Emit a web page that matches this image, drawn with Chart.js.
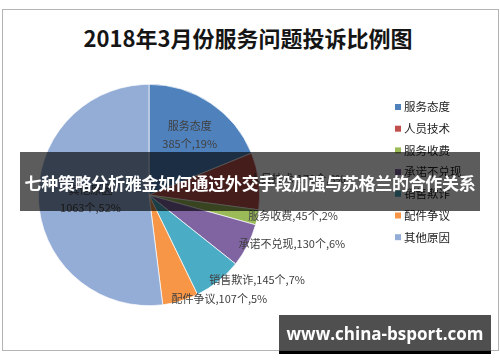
<!DOCTYPE html>
<html>
<head>
<meta charset="utf-8">
<script src="https://cdn.jsdelivr.net/npm/chart.js@4/dist/chart.umd.min.js"></script>
<style>
  body { margin:0; background:#fff; }
  #wrap { position:relative; width:500px; height:362px; overflow:hidden; font-family:"Noto Sans CJK SC", sans-serif; }
  #frame { position:absolute; left:2px; top:9px; width:495px; height:340px; border:1px solid #b4b4b4; }
  #title { position:absolute; left:0; width:496px; top:22px; text-align:center; font-size:22px; font-weight:700; color:#151515; line-height:30px; }
  #c { position:absolute; left:0; top:0; }
  #band { position:absolute; left:20px; top:152px; width:460px; height:59px; background:rgba(0,0,0,0.64); color:#fff;
          font-size:17px; font-weight:700; text-align:center; line-height:61px; letter-spacing:-0.3px; }
  #site { position:absolute; left:279px; top:315px; width:212px; height:36px; background:rgba(60,60,60,0.9); color:#fff;
          font-family:"Open Sans", sans-serif; font-size:17px; font-weight:700; text-align:center; line-height:38px;
          border-bottom:3px solid #000; }
</style>
</head>
<body>
<div id="wrap">
  <div id="frame"></div>
  <div id="title">2018年3月份服务问题投诉比例图</div>
  <canvas id="c" width="500" height="362"></canvas>
  <div id="band">七种策略分析雅金如何通过外交手段加强与苏格兰的合作关系</div>
  <div id="site">www.china-bsport.com</div>
</div>
<script>
// categories + counts (人员技术 estimated)
labels = ['服务态度','人员技术','服务收费','承诺不兑现','销售欺诈','配件争议','其他原因']
counts = [385,170,45,130,145,107,1063]
colors = ['#4F81BD','#C0504D','#9BBB59','#8064A2','#4BACC6','#F79646','#94ADD6']

total = counts.reduce((a,b)=>a+b,0)

// labels on the slices, like excel does it
var sliceLabels = {
  id:'sliceLabels',
  afterDatasetsDraw(chart){
    var ctx = chart.ctx
    var meta = chart.getDatasetMeta(0)
    ctx.save()
    ctx.fillStyle = '#404040'
    ctx.font = '11px "Noto Sans CJK SC", sans-serif'
    ctx.textBaseline = 'middle'
    for (let i=0; i<meta.data.length; i++){
      var p = meta.data[i].getProps(['x','y','startAngle','endAngle','outerRadius'],true)
      var mid = (p.startAngle+p.endAngle)/2
      var pct = Math.round(counts[i]*100/total)
      var txt = counts[i]+'个,'+pct+'%'
      if (counts[i]/total > 0.15){
        // big slice: label inside, two lines
        var f = i==0 ? 0.66 : 0.53
        var x = p.x + Math.cos(mid)*p.outerRadius*f
        var y = p.y + Math.sin(mid)*p.outerRadius*f
        ctx.textAlign = 'center'
        ctx.fillText(labels[i], x, y-9)
        ctx.fillText(txt, x, y+9)
      } else {
        var x = p.x + Math.cos(mid)*p.outerRadius - 9
        var y = p.y + Math.sin(mid)*p.outerRadius - 2
        ctx.textAlign = 'left'
        ctx.fillText(labels[i]+','+txt, x, y)
      }
    }
    ctx.restore()
  }
}

// legend on the right
var sideLegend = {
  id:'sideLegend',
  afterDraw(chart){
    var ctx = chart.ctx
    ctx.save()
    ctx.font = '11.5px "Noto Sans CJK SC", sans-serif'
    ctx.textBaseline = 'middle'
    ctx.textAlign = 'left'
    for (let i=0; i<labels.length; i++){
      var y = 107 + i*21.7
      ctx.fillStyle = colors[i]
      ctx.fillRect(395, y-3, 6, 6)
      ctx.fillStyle = '#222'
      ctx.fillText(labels[i], 404, y)
    }
    ctx.restore()
  }
}

const myChart = new Chart(
  document.getElementById('c'),
  {
    type:'pie',
    data:{
      labels: labels,
      datasets:[{
        data: counts,
        backgroundColor: colors,
        borderColor:'#fff',
        borderWidth:0.7
      }]
    },
    options:{
      responsive:false,
      animation:false,
      devicePixelRatio:1,
      layout:{ padding:{ left:38, top:84, right:240, bottom:56 } },
      plugins:{
        legend:{ display:false },
        tooltip:{ enabled:false }
      }
    },
    plugins:[sliceLabels, sideLegend]
  }
);
</script>
</body>
</html>
